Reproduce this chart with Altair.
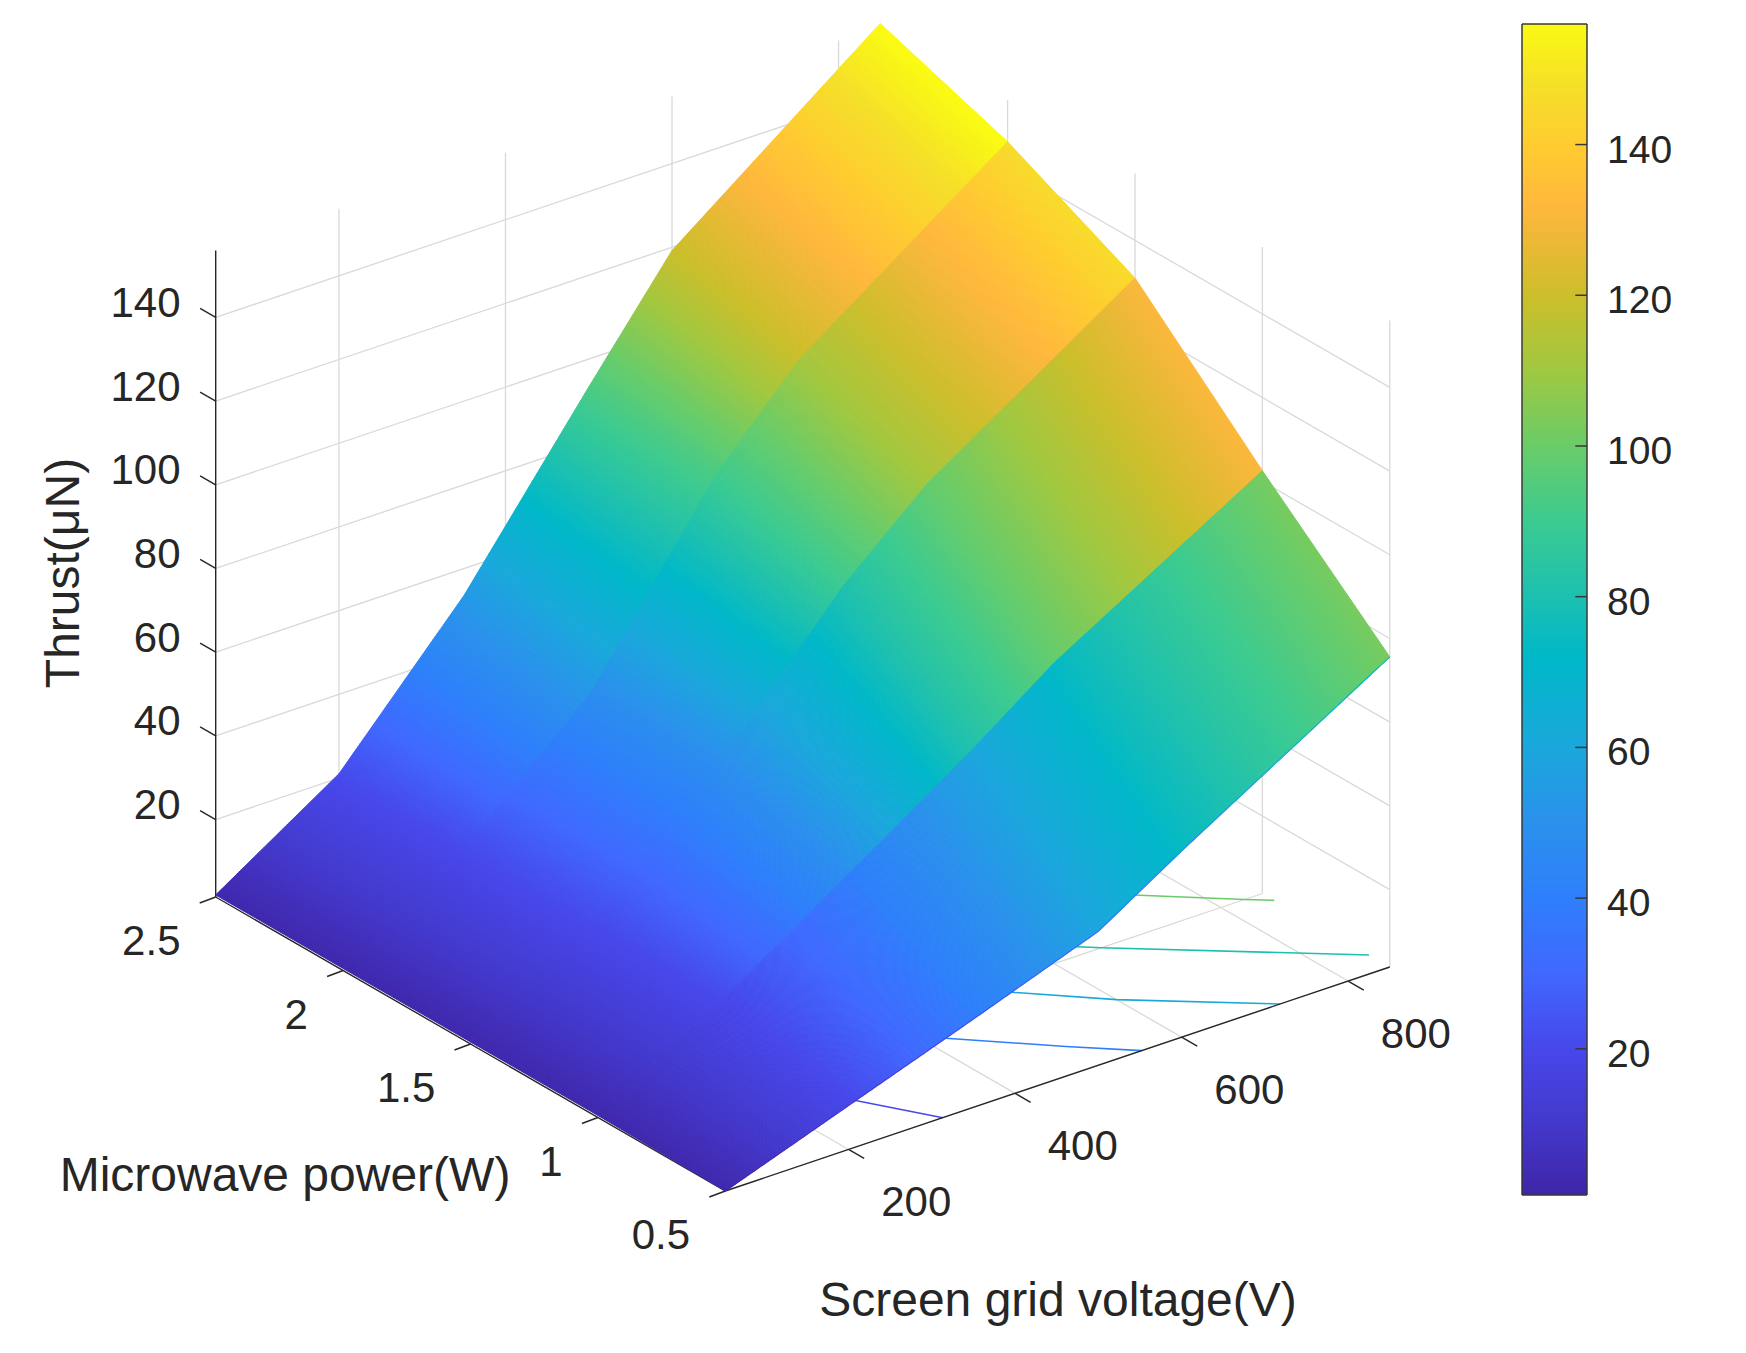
import altair as alt
import numpy as np

# ---------- values ----------
voltage = [52, 200, 350, 500, 600, 850]
power = [0.5, 1.0, 1.5, 2.0, 2.5]
thrust_p05 = [1.5, 12, 22.6, 33.5, 46, 75.6]
thrust_p10 = [2, 19.4, 39, 59, 73.4, 102.5]
thrust_p15 = [2, 20.5, 48, 81, 98.5, 131]
thrust_p20 = [2, 21, 48, 90, 110.8, 146]
thrust_p25 = [2, 21, 53.5, 93.3, 119.2, 156.7]
Z = np.array([thrust_p05, thrust_p10, thrust_p15, thrust_p20, thrust_p25], dtype=float)

z_ticks = [20, 40, 60, 80, 100, 120, 140]
v_ticks = [200, 400, 600, 800]
p_ticks = [0.5, 1, 1.5, 2, 2.5]
p_labels = ["0.5", "1", "1.5", "2", "2.5"]
bar_ticks = [20, 40, 60, 80, 100, 120, 140]
contour_levels = [20, 40, 60, 80, 100, 120, 140]

cmap_values = [0.6, 10, 20, 30, 40, 50, 60, 72, 80, 90, 100, 110, 120, 128, 132, 140, 148, 156]
cmap_colors = ["#3F25A8", "#4338CC", "#4747EA", "#4068FF", "#2E7FFB", "#2A91EC", "#1AA8DC",
               "#00B8C8", "#1CC0B0", "#3CCB90", "#6ACC68", "#A0C840", "#CDBE2A", "#F0B838",
               "#FFB83C", "#FFCC30", "#F5E028", "#FAFA12"]

V_MIN, V_MAX, P_MIN, P_MAX, Z_MIN, Z_MAX = 52.0, 850.0, 0.5, 2.5, 1.5, 156.0
INK = "#262626"
GRID = "#d9d9d9"
FONT = "Liberation Sans"
W, H = 1730, 1337
OX, OY = 215.7 - 8, 897.0 - 8


def pr(v, p, z=Z_MIN):
    """Orthographic view of the 3-D axes box."""
    x = OX + (v - V_MIN) * 0.8327 + (P_MAX - p) * 254.8
    y = OY - (v - V_MIN) * 0.2807 + (P_MAX - p) * 147.0 - (z - Z_MIN) * 4.185
    return float(x), float(y)


def seg(a, b):
    return {"x": a[0], "y": a[1], "x2": b[0], "y2": b[1]}


color_scale = alt.Scale(domain=cmap_values, range=cmap_colors, clamp=True, interpolate="rgb")
X = lambda f="x": alt.X(f"{f}:Q", scale=None, axis=None)
Y = lambda f="y": alt.Y(f"{f}:Q", scale=None, axis=None)


def rules(rows, color, width):
    return alt.Chart(alt.Data(values=rows)).mark_rule(color=color, strokeWidth=width).encode(
        x=X(), y=Y(), x2=alt.X2("x2:Q"), y2=alt.Y2("y2:Q"))


def texts(rows, size, align="center", angle=0):
    return alt.Chart(alt.Data(values=rows)).mark_text(
        font=FONT, fontSize=size, color=INK, align=align, baseline="middle", angle=angle
    ).encode(x=X(), y=Y(), text="t:N")


# ---------- grid on the walls and the floor ----------
grid = []
for z in z_ticks:
    grid.append(seg(pr(V_MIN, P_MAX, z), pr(V_MAX, P_MAX, z)))
    grid.append(seg(pr(V_MAX, P_MAX, z), pr(V_MAX, P_MIN, z)))
for v in v_ticks:
    grid.append(seg(pr(v, P_MAX, Z_MIN), pr(v, P_MAX, Z_MAX)))
    grid.append(seg(pr(v, P_MIN, Z_MIN), pr(v, P_MAX, Z_MIN)))
for p in p_ticks:
    grid.append(seg(pr(V_MAX, p, Z_MIN), pr(V_MAX, p, Z_MAX)))
    grid.append(seg(pr(V_MIN, p, Z_MIN), pr(V_MAX, p, Z_MIN)))
grid_layer = rules(grid, GRID, 1.3)

# ---------- axis lines and ticks ----------
axis_rows = [
    seg(pr(V_MIN, P_MAX, Z_MIN), pr(V_MIN, P_MAX, Z_MAX)),
    seg(pr(V_MIN, P_MAX, Z_MIN), pr(V_MIN, P_MIN, Z_MIN)),
    seg(pr(V_MIN, P_MIN, Z_MIN), pr(V_MAX, P_MIN, Z_MIN)),
]
for z in z_ticks:
    a = pr(V_MIN, P_MAX, z)
    axis_rows.append(seg(a, (a[0] - 15.6, a[1] - 9)))
for p in p_ticks:
    a = pr(V_MIN, p, Z_MIN)
    axis_rows.append(seg(a, (a[0] - 16, a[1] + 6)))
for v in v_ticks:
    a = pr(v, P_MIN, Z_MIN)
    axis_rows.append(seg(a, (a[0] + 15.6, a[1] + 9)))
axis_layer = rules(axis_rows, INK, 1.4)

# ---------- contour lines on the floor ----------
contour_rows = []
for lev in contour_levels:
    pts = []
    for i, p in enumerate(power):
        for j in range(len(voltage) - 1):
            a, b = Z[i, j], Z[i, j + 1]
            if min(a, b) <= lev < max(a, b):
                pts.append((p, voltage[j] + (lev - a) / (b - a) * (voltage[j + 1] - voltage[j])))
    for j, v in enumerate(voltage):
        for i in range(len(power) - 1):
            a, b = Z[i, j], Z[i + 1, j]
            if min(a, b) <= lev < max(a, b):
                pts.append((power[i] + (lev - a) / (b - a) * 0.5, v))
    pts.sort()
    for k, (p, v) in enumerate(pts):
        x, y = pr(v, p, Z_MIN)
        contour_rows.append({"x": x, "y": y, "k": k, "lev": lev, "c": lev})
contour_layer = alt.Chart(alt.Data(values=contour_rows)).mark_line(strokeWidth=1.6).encode(
    x=X(), y=Y(), order="k:Q", detail="lev:N",
    color=alt.Color("c:Q", scale=color_scale, legend=None))

# ---------- surface: shaded quads, back strip first ----------
fine_v = []
for j in range(len(voltage) - 1):
    n = max(1, int(round((voltage[j + 1] - voltage[j]) / 2.5)))
    fine_v.extend(np.linspace(voltage[j], voltage[j + 1], n, endpoint=False).tolist())
fine_v.append(voltage[-1])

quads = []
for i in range(len(power) - 2, -1, -1):
    low = np.interp(fine_v, voltage, Z[i])
    up = np.interp(fine_v, voltage, Z[i + 1])
    for k in range(len(fine_v) - 2, -1, -1):
        ring = [pr(fine_v[k], power[i + 1], up[k]), pr(fine_v[k + 1], power[i + 1], up[k + 1]),
                pr(fine_v[k + 1], power[i], low[k + 1]), pr(fine_v[k], power[i], low[k])]
        ring = [list(q) for q in ring] + [list(ring[0])]
        quads.append({"type": "Feature", "properties": {"c": float((up[k] + up[k + 1]) / 2)},
                      "geometry": {"type": "Polygon", "coordinates": [ring]}})
surface_layer = alt.Chart(alt.Data(values=quads)).mark_geoshape(strokeWidth=1.0).encode(
    color=alt.Color("properties.c:Q", scale=color_scale, legend=None),
    stroke=alt.Stroke("properties.c:Q", scale=color_scale, legend=None),
).project(type="identity", scale=1, translate=[0, 0])

# thin lower edge carrying the colour of the first row
edge_rows = []
low = np.interp(fine_v, voltage, Z[0])
for k in range(len(fine_v) - 1):
    a, b = pr(fine_v[k], power[0], low[k]), pr(fine_v[k + 1], power[0], low[k + 1])
    edge_rows.append({**seg(a, b), "c": float((low[k] + low[k + 1]) / 2)})
edge_layer = alt.Chart(alt.Data(values=edge_rows)).mark_rule(strokeWidth=1.2).encode(
    x=X(), y=Y(), x2=alt.X2("x2:Q"), y2=alt.Y2("y2:Q"),
    color=alt.Color("c:Q", scale=color_scale, legend=None))

# ---------- tick labels and titles ----------
z_rows = []
for z in z_ticks:
    a = pr(V_MIN, P_MAX, z)
    z_rows.append({"x": a[0] - 35.2, "y": a[1] - 13.4, "t": str(z)})
p_rows = []
for p, t in zip(p_ticks, p_labels):
    a = pr(V_MIN, p, Z_MIN)
    p_rows.append({"x": a[0] - 35.2, "y": a[1] + 45, "t": t})
v_rows = []
for v in v_ticks:
    a = pr(v, P_MIN, Z_MIN)
    v_rows.append({"x": a[0] + 67.7, "y": a[1] + 53.5, "t": str(v)})

FS = 42
z_text = texts(z_rows, FS, "right")
p_text = texts(p_rows, FS, "right")
v_text = texts(v_rows, FS, "center")
t1 = texts([{"x": 64.6 - 8, "y": 573 - 8, "t": "Thrust(μN)"}], 48, "center", 270)
t2 = texts([{"x": 285 - 8, "y": 1177 - 8, "t": "Microwave power(W)"}], 48)
t3 = texts([{"x": 1058 - 8, "y": 1302 - 8, "t": "Screen grid voltage(V)"}], 48)

# ---------- colour bar ----------
BAR_L, BAR_R, BAR_T, BAR_B = 1514, 1579, 16, 1187
BAR_LO, BAR_HI = 0.6, 156.0


def bar_y(z):
    return BAR_B - (z - BAR_LO) / (BAR_HI - BAR_LO) * (BAR_B - BAR_T)


def bar_z(y):
    return BAR_LO + (BAR_B - y) / (BAR_B - BAR_T) * (BAR_HI - BAR_LO)


bar_rows = [{"x": BAR_L, "x2": BAR_R, "y": int(y), "y2": int(y) + 2, "c": float(bar_z(y + 1))}
            for y in range(BAR_T, BAR_B - 1, 2)]
bar_rows.append({"x": BAR_L, "x2": BAR_R, "y": BAR_B - 2, "y2": BAR_B, "c": BAR_LO})
bar_layer = alt.Chart(alt.Data(values=bar_rows)).mark_rect(strokeWidth=0).encode(
    x=X(), y=Y(), x2=alt.X2("x2:Q"), y2=alt.Y2("y2:Q"),
    color=alt.Color("c:Q", scale=color_scale, legend=None))
frame = [seg((BAR_L, BAR_T), (BAR_R, BAR_T)), seg((BAR_R, BAR_T), (BAR_R, BAR_B)),
         seg((BAR_R, BAR_B), (BAR_L, BAR_B)), seg((BAR_L, BAR_B), (BAR_L, BAR_T))]
for z in bar_ticks:
    frame.append(seg((BAR_R - 11.7, float(bar_y(z))), (BAR_R, float(bar_y(z)))))
frame_layer = rules(frame, "#383838", 1.5)
bar_text = texts([{"x": BAR_R + 20, "y": float(bar_y(z)) + 6, "t": str(z)} for z in bar_ticks], 39, "left")

chart = alt.layer(
    grid_layer, contour_layer, axis_layer, surface_layer, edge_layer,
    z_text, p_text, v_text, t1, t2, t3, bar_layer, frame_layer, bar_text,
).resolve_scale(color="shared", stroke="shared").properties(
    width=W, height=H, padding=0, background="white",
    autosize=alt.AutoSizeParams(type="none"),
).configure_view(stroke=None)

chart.save("out.html", embed_options={"renderer": "svg", "actions": False})
